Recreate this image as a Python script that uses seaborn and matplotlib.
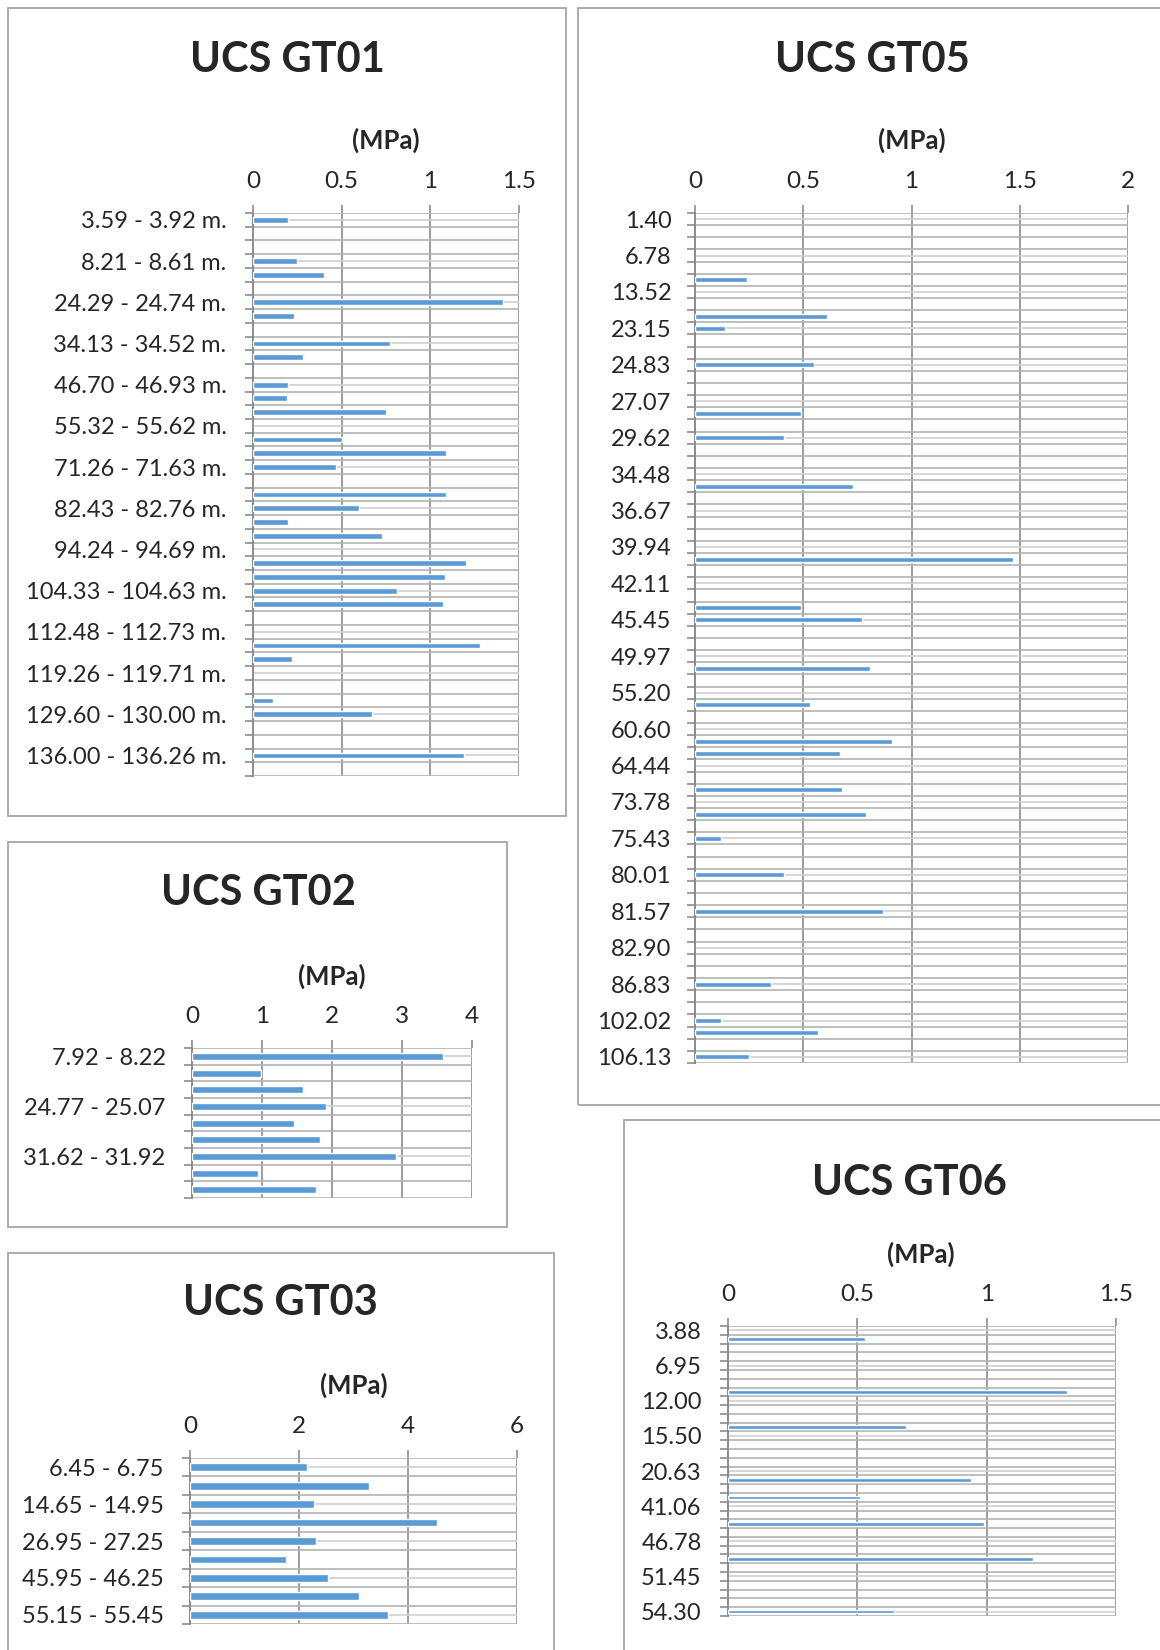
import matplotlib
matplotlib.use("Agg")
import matplotlib.pyplot as plt
from matplotlib.patches import Rectangle
import numpy as np
import pandas as pd
import seaborn as sns

# --- data (rows are category positions counted from the top, UCS in MPa) ---
gt01_n = 41
gt01_rows = [0, 3, 4, 6, 7, 9, 10, 12, 13, 14, 16, 17, 18, 20, 21, 22, 23,
             25, 26, 27, 28, 31, 32, 35, 36, 39]
gt01_ucs = [0.20, 0.25, 0.40, 1.41, 0.23, 0.77, 0.28, 0.20, 0.19, 0.75, 0.50,
            1.09, 0.47, 1.09, 0.60, 0.20, 0.73, 1.20, 1.08, 0.81, 1.07, 1.28,
            0.22, 0.11, 0.67, 1.19]
gt01_labels = ["3.59 - 3.92 m.", "8.21 - 8.61 m.", "24.29 - 24.74 m.",
               "34.13 - 34.52 m.", "46.70 - 46.93 m.", "55.32 - 55.62 m.",
               "71.26 - 71.63 m.", "82.43 - 82.76 m.", "94.24 - 94.69 m.",
               "104.33 - 104.63 m.", "112.48 - 112.73 m.", "119.26 - 119.71 m.",
               "129.60 - 130.00 m.", "136.00 - 136.26 m."]

gt05_n = 70
gt05_rows = [5, 8, 9, 12, 16, 18, 22, 28, 32, 33, 37, 40, 43, 44, 47, 49, 51,
             54, 57, 63, 66, 67, 69]
gt05_ucs = [0.24, 0.61, 0.14, 0.55, 0.49, 0.41, 0.73, 1.47, 0.49, 0.77, 0.81,
            0.53, 0.91, 0.67, 0.68, 0.79, 0.12, 0.41, 0.87, 0.35, 0.12, 0.57,
            0.25]
gt05_labels = ["1.40", "6.78", "13.52", "23.15", "24.83", "27.07", "29.62",
               "34.48", "36.67", "39.94", "42.11", "45.45", "49.97", "55.20",
               "60.60", "64.44", "73.78", "75.43", "80.01", "81.57", "82.90",
               "86.83", "102.02", "106.13"]

gt02_n = 9
gt02_rows = [0, 1, 2, 3, 4, 5, 6, 7, 8]
gt02_ucs = [3.59, 0.99, 1.59, 1.91, 1.46, 1.83, 2.92, 0.94, 1.77]
gt02_labels = ["7.92 - 8.22", "24.77 - 25.07", "31.62 - 31.92"]

gt03_n = 9
gt03_rows = [0, 1, 2, 3, 4, 5, 6, 7, 8]
gt03_ucs = [2.14, 3.28, 2.28, 4.54, 2.32, 1.77, 2.54, 3.10, 3.64]
gt03_labels = ["6.45 - 6.75", "14.65 - 14.95", "26.95 - 27.25",
               "45.95 - 46.25", "55.15 - 55.45"]

gt06_n = 33
gt06_rows = [1, 7, 11, 17, 19, 22, 26, 32]
gt06_ucs = [0.53, 1.31, 0.69, 0.94, 0.51, 0.99, 1.18, 0.64]
gt06_labels = ["3.88", "6.95", "12.00", "15.50", "20.63", "41.06", "46.78",
               "51.45", "54.30"]

W, H = 1160, 1650
BLUE = "#5B9BD5"

sns.set_style("white")
plt.rcParams["font.family"] = ["Lato", "DejaVu Sans"]

fig = plt.figure(figsize=(W / 100, H / 100), dpi=100)


def px_axes(x0, y0, x1, y1):
    return fig.add_axes([x0 / W, 1 - y1 / H, (x1 - x0) / W, (y1 - y0) / H])


def frame(x0, y0, x1, y1):
    fig.patches.append(Rectangle((x0 / W, 1 - y1 / H), (x1 - x0) / W, (y1 - y0) / H,
                                 transform=fig.transFigure, fill=False,
                                 edgecolor="#a6a6a6", lw=1.3, zorder=0))


def draw_panel(ax, n, rows, ucs, labels, step, xmax, xstep, ypad=19):
    order = [str(i) for i in range(n)]
    df = pd.DataFrame({"pos": [str(r) for r in rows], "ucs": ucs})
    sns.barplot(data=df, x="ucs", y="pos", order=order, orient="h",
                color=BLUE, width=0.42, saturation=1, ax=ax, zorder=3)
    ax.set_ylim(n - 0.5, -0.5)
    ax.set_xlim(0, xmax)
    ax.set_xlabel("")
    ax.set_ylabel("")
    # category boundaries carry tick marks, labels sit on every `step` centre
    ax.set_yticks(np.arange(n + 1) - 0.5)
    ax.set_yticklabels([])
    ax.set_yticks(np.arange(0, n, step), minor=True)
    ax.set_yticklabels(labels, minor=True)
    ax.tick_params(axis="y", which="major", left=True, length=6, width=1.2,
                   color="#8c8c8c")
    ax.tick_params(axis="y", which="minor", left=True, length=0, pad=ypad,
                   labelsize=17)
    # value axis on top
    ax.xaxis.tick_top()
    xt = np.arange(0, xmax + xstep / 2, xstep)
    ax.set_xticks(xt)
    ax.set_xticklabels([f"{v:g}" for v in xt])
    ax.tick_params(axis="x", top=True, length=6, width=1.2, color="#8c8c8c",
                   pad=9, labelsize=17.5)
    ax.grid(axis="y", which="major", color="#b3b3b3", lw=1.2, zorder=0)
    ax.grid(axis="y", which="minor", color="#cfcfcf", lw=1.2, zorder=0)
    ax.grid(axis="x", which="major", color="#8c8c8c", lw=1.2, zorder=1)
    for s in ["top", "bottom", "right"]:
        ax.spines[s].set_visible(False)
    ax.spines["left"].set_color("#8c8c8c")
    ax.spines["left"].set_linewidth(1.4)
    ax.set_axisbelow(True)


# panel frames (Excel chart areas)
frame(8, 8, 566, 816)
frame(578, 8, 1175, 1105)
frame(8, 842, 507, 1227)
frame(8, 1253, 554, 1670)
frame(624, 1120, 1175, 1670)

ax1 = px_axes(253, 213, 519, 776)
draw_panel(ax1, gt01_n, gt01_rows, gt01_ucs, gt01_labels, 3, 1.5, 0.5)

ax5 = px_axes(695, 213, 1128, 1063)
draw_panel(ax5, gt05_n, gt05_rows, gt05_ucs, gt05_labels, 3, 2.0, 0.5, ypad=17)

ax2 = px_axes(192, 1048, 472, 1198)
draw_panel(ax2, gt02_n, gt02_rows, gt02_ucs, gt02_labels, 3, 4, 1)

ax3 = px_axes(190, 1458, 517, 1624)
draw_panel(ax3, gt03_n, gt03_rows, gt03_ucs, gt03_labels, 2, 6, 2)

ax6 = px_axes(728, 1326, 1116, 1616)
draw_panel(ax6, gt06_n, gt06_rows, gt06_ucs, gt06_labels, 4, 1.5, 0.5)

# titles and axis titles
titles = [("UCS GT01", 287, 60), ("UCS GT05", 872, 60), ("UCS GT02", 258, 893),
          ("UCS GT03", 280, 1303), ("UCS GT06", 909, 1183)]
for t, x, y in titles:
    fig.text(x / W, 1 - y / H, t, ha="center", va="center", fontsize=30,
             fontweight="bold")

units = [(386, 140), (912, 140), (332, 976), (354, 1385), (921, 1254)]
for x, y in units:
    fig.text(x / W, 1 - y / H, "(MPa)", ha="center", va="center", fontsize=18.5,
             fontweight="bold")

fig.savefig("out.png", dpi=100)
